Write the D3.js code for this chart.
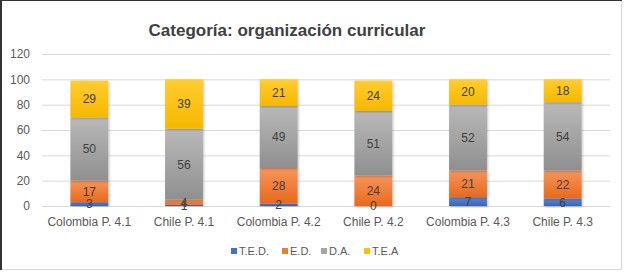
<!DOCTYPE html>
<html>
<head>
<meta charset="utf-8">
<script src="https://cdn.jsdelivr.net/npm/d3@7"></script>
<style>
  body { margin: 0; background: #fff; }
  svg { display: block; font-family: 'Liberation Sans', 'Open Sans', sans-serif; }
</style>
</head>
<body>
<div id="chart"></div>
<script>
let categories = ['Colombia P. 4.1', 'Chile P. 4.1', 'Colombia P. 4.2', 'Chile P. 4.2', 'Colombia P. 4.3', 'Chile P. 4.3'];
let seriesNames = ['T.E.D.', 'E.D.', 'D.A.', 'T.E.A'];
let tedValues = [3, 1, 2, 0, 7, 6];
let edValues = [17, 4, 28, 24, 21, 22];
let daValues = [50, 56, 49, 51, 52, 54];
let teaValues = [29, 39, 21, 24, 20, 18];
let yTicks = [0, 20, 40, 60, 80, 100, 120];

let width = 624,
    height = 272,
    margin = {left: 42, top: 54, right: 14, bottom: 66},
    plotWidth = width - margin.left - margin.right,
    plotHeight = height - margin.top - margin.bottom;

let colors = [
    {base: '#4472c4', top: '#5a86d6', bottom: '#3a66b8'},
    {base: '#ed7d31', top: '#f5955c', bottom: '#e8691c'},
    {base: '#a5a5a5', top: '#b9b9b9', bottom: '#8f8f8f'},
    {base: '#ffc000', top: '#ffcd30', bottom: '#f7b800'}
];

let rows = categories.map((c, i) => ({
    cat: c, 'T.E.D.': tedValues[i], 'E.D.': edValues[i], 'D.A.': daValues[i], 'T.E.A': teaValues[i]
}));
let stacked = d3.stack().keys(seriesNames)(rows);

let svg = d3.select('#chart').append('svg')
    .attr('width', width)
    .attr('height', height);

// frame
svg.append('rect')
    .attr('x', 0.5).attr('y', 0.5)
    .attr('width', width - 3).attr('height', height - 3)
    .attr('fill', '#fff')
    .attr('stroke', '#d9d9d9');
svg.append('line').attr('x1', 1).attr('x2', 1).attr('y1', 0).attr('y2', height - 2)
    .attr('stroke', '#333').attr('stroke-width', 2);
svg.append('line').attr('x1', 0).attr('x2', width - 2).attr('y1', 0.5).attr('y2', 0.5)
    .attr('stroke', '#333').attr('stroke-width', 1);

let defs = svg.append('defs');
colors.forEach((c, i) => {
    let g = defs.append('linearGradient')
        .attr('id', 'grad' + i)
        .attr('x1', 0).attr('y1', 0).attr('x2', 0).attr('y2', 1);
    g.append('stop').attr('offset', '0%').attr('stop-color', c.top);
    g.append('stop').attr('offset', '100%').attr('stop-color', c.bottom);
});
let shadow = defs.append('filter').attr('id', 'shadow')
    .attr('x', '-20%').attr('y', '-20%').attr('width', '140%').attr('height', '140%');
shadow.append('feDropShadow').attr('dx', 1).attr('dy', 1).attr('stdDeviation', 1)
    .attr('flood-color', '#000').attr('flood-opacity', 0.25);

svg.append('text')
    .attr('x', 287)
    .attr('y', 36)
    .attr('text-anchor', 'middle')
    .attr('font-size', 17)
    .attr('font-weight', 'bold')
    .attr('fill', '#404040')
    .text('Categoría: organización curricular');

let g = svg.append('g')
    .attr('transform', `translate(${margin.left}, ${margin.top})`);

let xScale = d3.scaleBand()
    .domain(categories)
    .range([0, plotWidth])
    .paddingInner(0.6)
    .paddingOuter(0.3);

let yScale = d3.scaleLinear()
    .domain([0, 120])
    .range([plotHeight, 0]);

let grid_g = g.append('g').attr('class', 'grid');
grid_g.selectAll('line')
    .data(yTicks)
    .join('line')
    .attr('x1', 0).attr('x2', plotWidth)
    .attr('y1', d => yScale(d) + 0.5).attr('y2', d => yScale(d) + 0.5)
    .attr('stroke', '#d9d9d9');

let yAxis = g.append('g')
    .call(d3.axisLeft(yScale).tickValues(yTicks).tickSize(0).tickPadding(12));
yAxis.select('.domain').remove();
yAxis.selectAll('text').attr('font-size', 12).attr('fill', '#595959')
    .attr('font-family', "'Liberation Sans', sans-serif");

let xAxis = g.append('g')
    .attr('transform', `translate(0, ${plotHeight})`)
    .call(d3.axisBottom(xScale).tickSize(0).tickPadding(11));
xAxis.select('.domain').remove();
xAxis.selectAll('text').attr('font-size', 12).attr('fill', '#595959')
    .attr('font-family', "'Liberation Sans', sans-serif");

let bar_g = g.append('g').attr('class', 'bars');
stacked.forEach((s, i) => {
    bar_g.append('g')
        .selectAll('rect')
        .data(s)
        .join('rect')
        .attr('x', d => xScale(d.data.cat))
        .attr('width', xScale.bandwidth())
        .attr('y', d => yScale(d[1]))
        .attr('height', d => yScale(d[0]) - yScale(d[1]))
        .attr('fill', `url(#grad${i})`)
        .attr('filter', 'url(#shadow)');
});

let label_g = g.append('g').attr('class', 'labels');
stacked.forEach(s => {
    label_g.append('g')
        .selectAll('text')
        .data(s)
        .join('text')
        .attr('x', d => xScale(d.data.cat) + xScale.bandwidth() / 2)
        .attr('y', d => yScale((d[0] + d[1]) / 2))
        .attr('dy', '0.36em')
        .attr('text-anchor', 'middle')
        .attr('font-size', 12)
        .attr('fill', '#404040')
        .text(d => d[1] - d[0]);
});

// legend
let legendX = [231, 282, 321, 364];
let legend_g = svg.append('g').attr('transform', 'translate(0, 251)');
seriesNames.forEach((n, i) => {
    let item = legend_g.append('g').attr('transform', `translate(${legendX[i]}, 0)`);
    item.append('rect')
        .attr('x', 0).attr('y', -3)
        .attr('width', 6).attr('height', 6)
        .attr('fill', colors[i].base);
    item.append('text')
        .attr('x', 8).attr('y', 0)
        .attr('dy', '0.35em')
        .attr('font-size', 11)
        .attr('fill', '#595959')
        .text(n);
});
</script>
</body>
</html>
